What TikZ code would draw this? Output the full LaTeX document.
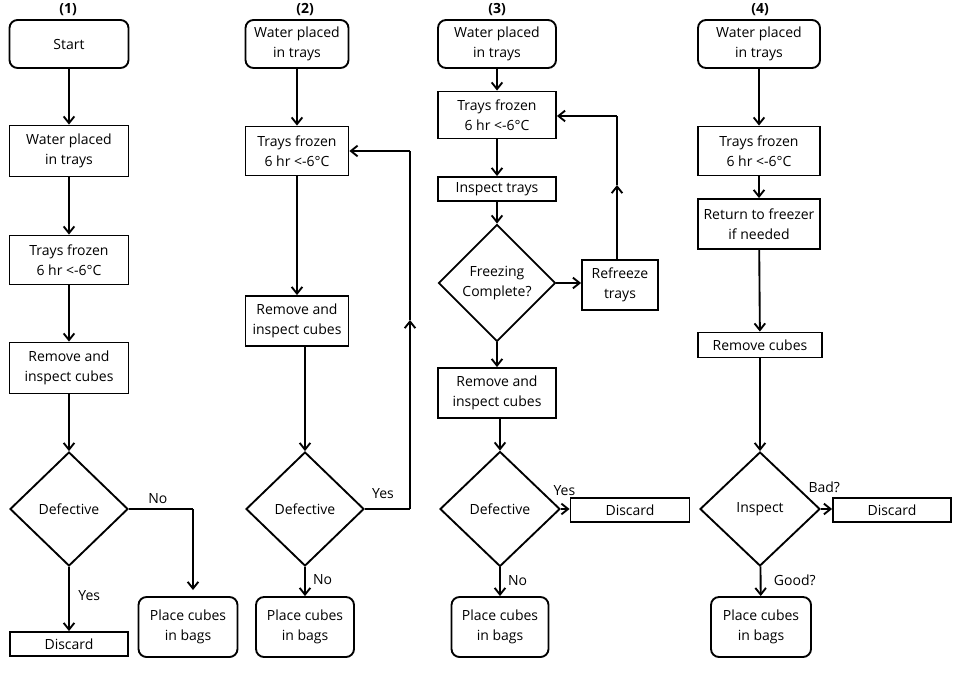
\documentclass[tikz,border=0pt]{standalone}
\usepackage{fontspec}
\setmainfont{Open Sans}
\usetikzlibrary{shapes.geometric,arrows.meta}
\begin{document}
\begin{tikzpicture}[x=0.75pt,y=-0.75pt,
  font=\fontsize{10.5}{15}\selectfont,
  w/.style={minimum width=#1*0.75pt},
  h/.style={minimum height=#1*0.75pt},
  box/.style={draw,line width=1.4pt,align=center,inner sep=1pt},
  rbox/.style={box,rounded corners=6pt},
  dia/.style={draw,line width=1.4pt,diamond,align=center,inner sep=0pt},
  arr/.style={line width=1.4pt,-{Straight Barb[length=5pt,width=8pt]}},
  ln/.style={line width=1.4pt},
  hd/.style={font=\fontsize{10.5}{12}\selectfont\bfseries}]
\useasboundingbox (0,0) rectangle (958,685);
\fill[white] (0,0) rectangle (958,685);
% headers
\node[hd] (h1) at (68,10) {(1)};
\node[hd] (h2) at (305,10) {(2)};
\node[hd] (h3) at (497,10) {(3)};
\node[hd] (h4) at (760,10) {(4)};
% column 1
\node[rbox,w=119,h=48] (a1) at (69,44) {Start};
\node[box,w=119,h=51] (a2) at (69,151) {Water placed\\in trays};
\node[box,w=119,h=49] (a3) at (69,260) {Trays frozen\\6 hr <-6°C};
\node[box,w=119,h=51] (a4) at (69,368) {Remove and\\inspect cubes};
\node[dia,w=118,h=114] (a5) at (69,509) {Defective};
\node[box,w=118,h=24] (a6) at (69,644) {Discard};
\node[rbox,w=99,h=60] (a7) at (188,627) {Place cubes\\in bags};
\draw[arr] (a1) -- (a2);
\draw[arr] (a2) -- (a3);
\draw[arr] (a3) -- (a4);
\draw[arr] (a4) -- (a5);
\draw[arr] (a5) -- (a6) node[pos=0.45,right,xshift=3pt] {Yes};
\coordinate (c1) at (193,509);
\draw[ln] (a5.east) -- (c1) node[pos=0.45,above] {No};
\draw[arr] (c1) -- (193,590);
% column 2
\node[rbox,w=103,h=48] (b1) at (297,44) {Water placed\\in trays};
\node[box,w=103,h=49] (b2) at (297,151) {Trays frozen\\6 hr <-6°C};
\node[box,w=103,h=50] (b3) at (297,321) {Remove and\\inspect cubes};
\node[dia,w=118,h=114] (b4) at (305,509) {Defective};
\node[rbox,w=98,h=60] (b5) at (305,627) {Place cubes\\in bags};
\draw[arr] (b1) -- (b2);
\draw[arr] (b2) -- (b3);
\draw[arr] (b3.south -| b4.north) -- (b4.north);
\draw[arr] (b4) -- (b5) node[pos=0.45,right,xshift=2pt] {No};
\coordinate (c2) at (410,509);
\coordinate (c3) at (410,151);
\draw[ln] (b4.east) -- (c2) node[pos=0.4,above,yshift=4pt] {Yes};
\draw[arr] (c2) -- (410,320);
\draw[ln] (410,320) -- (c3);
\draw[arr] (c3) -- (b2.east);
% column 3
\node[rbox,w=118,h=48] (d1) at (497,44) {Water placed\\in trays};
\node[box,w=118,h=47] (d2) at (497,115) {Trays frozen\\6 hr <-6°C};
\node[box,w=118,h=24] (d3) at (497,189) {Inspect trays};
\node[dia,w=117,h=117] (d4) at (497,283) {Freezing\\Complete?};
\node[box,w=76,h=50] (d5) at (620,285) {Refreeze\\trays};
\node[box,w=118,h=50] (d6) at (497,393) {Remove and\\inspect cubes};
\node[dia,w=120,h=115] (d7) at (500,509) {Defective};
\node[box,w=119,h=24] (d8) at (630,510) {Discard};
\node[rbox,w=97,h=60] (d9) at (500,627) {Place cubes\\in bags};
\draw[arr] (d1) -- (d2);
\draw[arr] (d2) -- (d3);
\draw[arr] (d3) -- (d4);
\draw[arr] (d4) -- (d5.west |- d4);
\draw[arr] (d4) -- (d6);
\draw[arr] (d6.south -| d7.north) -- (d7.north);
\draw[arr] (d7) -- (d8.west |- d7) node[pos=0.4,above,yshift=6pt] {Yes};
\draw[arr] (d7) -- (d9) node[pos=0.45,right,xshift=2pt] {No};
\coordinate (c4) at (617,116);
\draw[arr] (d5.north -| c4) -- (617,185);
\draw[ln] (617,185) -- (c4);
\draw[arr] (c4) -- (d2.east |- c4);
% column 4
\node[rbox,w=122,h=48] (e1) at (759,44) {Water placed\\in trays};
\node[box,w=122,h=49] (e2) at (759,151) {Trays frozen\\6 hr <-6°C};
\node[box,w=122,h=50] (e3) at (759,224) {Return to freezer\\if needed};
\node[box,w=124,h=25] (e4) at (760,345) {Remove cubes};
\node[dia,w=120,h=114] (e5) at (760,509) {Inspect};
\node[box,w=118,h=24] (e6) at (892,510) {Discard};
\node[rbox,w=100,h=60] (e7) at (761,627) {Place cubes\\in bags};
\draw[arr] (e1) -- (e2);
\draw[arr] (e2) -- (e3);
\draw[arr] (e3) -- (e4);
\draw[arr] (e4) -- (e5);
\draw[arr] (e5) -- (e6.west |- e5) node[pos=0.3,above,yshift=8pt] {Bad?};
\draw[arr] (e5) -- (e7) node[pos=0.45,right,xshift=6pt] {Good?};
\end{tikzpicture}
\end{document}
